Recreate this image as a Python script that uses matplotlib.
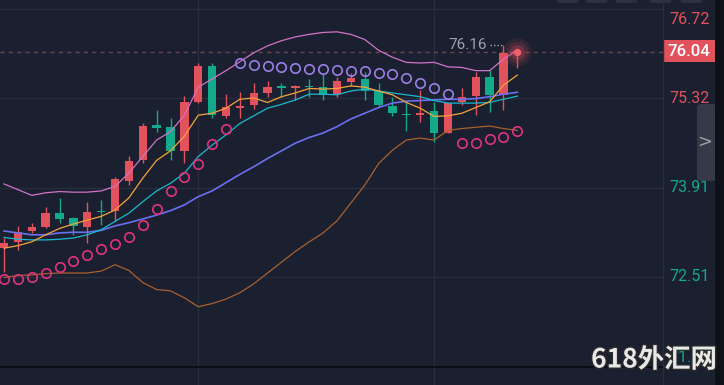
import matplotlib.pyplot as plt
import matplotlib.transforms as mtransforms
import matplotlib.patheffects as pe
from matplotlib.patches import Rectangle, FancyBboxPatch
import numpy as np

# candle data
opens = [72.96, 73.05, 73.23, 73.29, 73.51, 73.43, 73.29, 73.54, 73.55, 74.02,
         74.34, 74.90, 74.86, 74.49, 75.26, 75.82, 75.04, 75.17, 75.21, 75.40,
         75.49, 75.47, 75.50, 75.49, 75.38, 75.57, 75.62, 75.43, 75.19, 75.07,
         75.06, 75.12, 74.77, 75.25, 75.35, 75.65, 75.37, 76.03]
highs = [73.12, 73.31, 73.36, 73.61, 73.75, 73.45, 73.69, 73.72, 74.08, 74.41,
         74.93, 75.13, 75.01, 75.35, 75.87, 75.87, 75.38, 75.41, 75.56, 75.59,
         75.56, 75.52, 75.62, 75.70, 75.65, 75.71, 75.73, 75.56, 75.34, 75.26,
         75.45, 75.26, 75.24, 75.48, 75.73, 75.76, 76.16, 76.06]
lows = [72.59, 72.93, 73.20, 73.28, 73.36, 73.17, 73.04, 73.33, 73.39, 73.95,
        74.30, 74.79, 74.34, 74.30, 75.24, 75.01, 75.01, 75.01, 75.15, 75.34,
        75.34, 75.29, 75.34, 75.29, 75.34, 75.51, 75.29, 75.18, 75.04, 74.80,
        74.94, 74.63, 74.77, 75.21, 75.05, 75.10, 75.13, 75.79]
closes = [73.04, 73.22, 73.29, 73.51, 73.42, 73.31, 73.53, 73.53, 74.04, 74.33,
          74.88, 74.85, 74.49, 75.26, 75.82, 75.05, 75.18, 75.18, 75.40, 75.49,
          75.48, 75.51, 75.49, 75.37, 75.59, 75.63, 75.43, 75.21, 75.08, 75.05,
          75.09, 74.77, 75.24, 75.33, 75.65, 75.37, 76.03, 76.04]

# indicators
boll_up = [73.97, 73.88, 73.79, 73.83, 73.85, 73.84, 73.84, 73.86, 73.93, 74.14,
           74.40, 74.66, 74.79, 75.05, 75.49, 75.62, 75.75, 75.89, 76.03, 76.14,
           76.22, 76.28, 76.32, 76.35, 76.36, 76.32, 76.24, 76.07, 75.96, 75.88,
           75.87, 75.88, 75.81, 75.80, 75.75, 75.75, 75.93, 76.07]
boll_mid = [73.23, 73.20, 73.17, 73.17, 73.20, 73.21, 73.21, 73.24, 73.31, 73.36,
            73.42, 73.48, 73.55, 73.64, 73.77, 73.86, 73.99, 74.12, 74.24, 74.37,
            74.49, 74.61, 74.70, 74.77, 74.87, 74.99, 75.08, 75.17, 75.24, 75.27,
            75.28, 75.29, 75.30, 75.30, 75.31, 75.34, 75.38, 75.41]
boll_low = [72.50, 72.53, 72.54, 72.56, 72.57, 72.57, 72.57, 72.60, 72.70, 72.61,
            72.42, 72.31, 72.29, 72.18, 72.04, 72.09, 72.16, 72.26, 72.40, 72.57,
            72.74, 72.91, 73.06, 73.20, 73.39, 73.67, 73.95, 74.29, 74.50, 74.66,
            74.69, 74.66, 74.81, 74.84, 74.86, 74.88, 74.84, 74.81]
ma5 = [72.96, 73.00, 73.06, 73.17, 73.27, 73.34, 73.40, 73.46, 73.56, 73.75,
       74.06, 74.34, 74.49, 74.72, 75.05, 75.08, 75.16, 75.30, 75.32, 75.25,
       75.34, 75.40, 75.47, 75.46, 75.47, 75.51, 75.49, 75.43, 75.37, 75.25,
       75.16, 75.03, 75.04, 75.08, 75.17, 75.26, 75.52, 75.68]
ma10 = [73.13, 73.10, 73.09, 73.09, 73.10, 73.12, 73.17, 73.25, 73.38, 73.51,
        73.69, 73.86, 73.98, 74.14, 74.40, 74.58, 74.74, 74.92, 75.04, 75.16,
        75.22, 75.29, 75.38, 75.38, 75.37, 75.43, 75.46, 75.43, 75.40, 75.37,
        75.34, 75.28, 75.24, 75.24, 75.24, 75.25, 75.30, 75.35]
sar = [72.47, 72.48, 72.51, 72.57, 72.66, 72.76, 72.86, 72.95, 73.02, 73.14,
       73.32, 73.57, 73.86, 74.08, 74.28, 74.59, 74.84, 75.87, 75.84, 75.82,
       75.80, 75.79, 75.78, 75.77, 75.76, 75.75, 75.74, 75.72, 75.69, 75.63,
       75.55, 75.47, 75.38, 74.61, 74.62, 74.67, 74.71, 74.80]

price_ticks = [76.72, 75.32, 73.91, 72.51, 71.10]
last_price = 76.04
max_high = 76.16

BG = "#1b2030"
GRID = "#272e3d"
RED = "#e2525c"
GREEN = "#13a98b"

o = np.array(opens); h = np.array(highs); l = np.array(lows); c = np.array(closes)
x = np.arange(len(o))

fig = plt.figure(figsize=(7.24, 3.85), dpi=100)
fig.patch.set_facecolor(BG)
ax = fig.add_axes([0, 0, 663 / 724, 1])
ax.set_facecolor(BG)
ax.set_xlim(-0.29, 47.5)
ax.set_ylim(70.81, 76.86)
for s in ax.spines.values():
    s.set_visible(False)
ax.set_xticks([])
ax.set_yticks([])

# grid
for lv in price_ticks[:-1]:
    ax.axhline(lv, color=GRID, lw=1, zorder=0)
ax.axvline(14, color=GRID, lw=1, zorder=0)
ax.axvline(31, color=GRID, lw=1, zorder=0)
ax.axhline(71.10, color="#0a0d13", lw=1.3, zorder=1)

# current price line
ax.axhline(last_price, color="#70404c", lw=1, ls=(0, (3, 3)), zorder=1)

# candles
up = c >= o
cols = np.where(up, RED, GREEN)
ax.vlines(x, l, h, colors=cols, lw=1, zorder=2)
ax.bar(x, np.maximum(np.abs(c - o), 0.022), 0.6, bottom=np.minimum(o, c),
       color=cols, zorder=3)

# indicator lines
ax.plot(x, boll_up, color="#cf74c6", lw=0.9, zorder=4)
ax.plot(x, boll_low, color="#a8602e", lw=0.9, zorder=4)
ax.plot(x, boll_mid, color="#6a70f0", lw=1.2, zorder=4)
ax.plot(x, ma10, color="#1ab8cf", lw=0.9, zorder=4)
ax.plot(x, ma5, color="#f5a33a", lw=0.9, zorder=4)

# parabolic SAR
sar_a = np.array(sar)
above = sar_a > c
ax.plot(x[~above], sar_a[~above], "o", mfc="none", mec="#e0337f", ms=6.8,
        mew=1.2, zorder=5)
ax.plot(x[above], sar_a[above], "o", mfc="none", mec="#9b7fe6", ms=6.8,
        mew=1.2, zorder=5)

# glowing last price dot
for s_, a_ in [(420, 0.10), (240, 0.15), (110, 0.25)]:
    ax.scatter([x[-1]], [last_price], s=s_, color=RED, alpha=a_, lw=0, zorder=6)
ax.scatter([x[-1]], [last_price], s=28, color="#f0606a", lw=0, zorder=7)

# max high label
ax.text(34.8, max_high - 0.01, "76.16", color="#9da2ab", fontsize=11,
        family="Roboto", ha="right", va="center", zorder=6)
ax.plot([35.05, 35.95], [max_high, max_high], color="#9da2ab", lw=1,
        ls=(0, (1, 1.5)), zorder=6)

# right price axis
trans = mtransforms.blended_transform_factory(fig.transFigure, ax.transData)
fig.add_artist(plt.Line2D([663 / 724, 663 / 724], [0, 1], color=GRID, lw=1))
label_y = [76.56, 75.32, 73.91, 72.51, 71.24]
for lv, ly in zip(price_ticks, label_y):
    col = RED if lv > last_price - 1 else GREEN
    ax.text(669 / 724, ly, f"{lv:.2f}", transform=trans, color=col,
            fontsize=11.5, family="Roboto", ha="left", va="center",
            clip_on=False, zorder=1)

fig.add_artist(Rectangle((663 / 724, (385 - 62) / 385), 52 / 724, 22 / 385,
                         transform=fig.transFigure, color=RED, lw=0))
fig.text(689 / 724, (385 - 51) / 385, f"{last_price:.2f}", color="white",
         fontsize=12, family="Roboto", weight="medium", ha="center",
         va="center")

# side tab and right border
fig.add_artist(FancyBboxPatch((697 / 724, (385 - 181) / 385), 20 / 724, 77 / 385,
                              boxstyle="round,pad=0,rounding_size=0.008",
                              transform=fig.transFigure, color="#353a46", lw=0))
fig.text(705 / 724, (385 - 142) / 385, ">", color="#9aa0aa", fontsize=13,
         family="DejaVu Sans", ha="center", va="center")
fig.add_artist(Rectangle((715 / 724, 0), 9 / 724, 1, transform=fig.transFigure,
                         color="#0e1117", lw=0))

# top buttons
for bx in [557, 586, 616, 650, 681]:
    fig.add_artist(FancyBboxPatch((bx / 724, (385 - 3) / 385), 21 / 724, 6 / 385,
                                  boxstyle="round,pad=0,rounding_size=0.004",
                                  transform=fig.transFigure, color="#2b313e", lw=0))

# watermark
fig.text(654 / 724, (385 - 360) / 385, "618外汇网", color="#e8e8e8",
         fontsize=19, weight="bold",
         family=["Noto Sans CJK SC", "DejaVu Sans"], ha="center", va="center",
         path_effects=[pe.withStroke(linewidth=2, foreground="#2a2a2a")])

fig.savefig("out.png", dpi=100, facecolor=BG)
